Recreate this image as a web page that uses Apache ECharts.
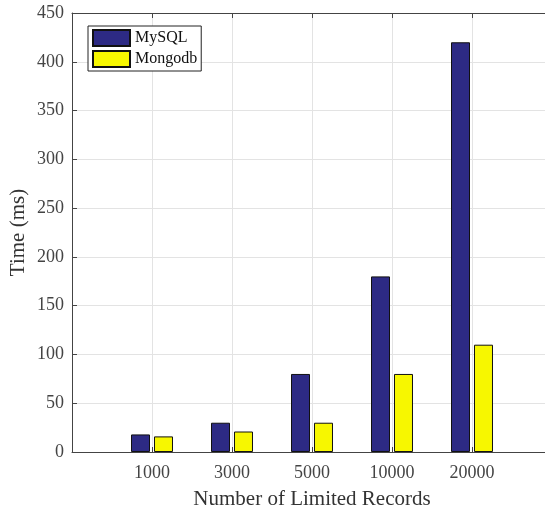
<!DOCTYPE html>
<html>
<head>
<meta charset="utf-8">
<script src="https://cdn.jsdelivr.net/npm/echarts@6/dist/echarts.min.js"></script>
<style>html,body{margin:0;padding:0;background:#fff;overflow:hidden}#c{width:545px;height:510px}</style>
</head>
<body>
<div id="c"></div>
<script>
const categories = ['1000', '3000', '5000', '10000', '20000'];
const mysqlValues = [18, 30, 80, 180, 420];
const mongoValues = [16, 21, 30, 80, 110];
const yTicks = { min: 0, max: 450, interval: 50 };

// pad with empty slots so the axis spans 0..6 like the original (xlim [0 6])
const axisCats = [''].concat(categories, ['']);
const pad = arr => [null].concat(arr, [null]);

const FONT = '"Liberation Serif", "Times New Roman", serif';
const chart = echarts.init(document.getElementById('c'), null, { renderer: 'canvas', width: 545, height: 510 });
chart.setOption({
  animation: false,
  backgroundColor: '#fff',
  grid: { left: 72, top: 13, width: 480, height: 439, containLabel: false, outerBoundsMode: 'none' },
  legend: {
    orient: 'vertical', left: 88, top: 26,
    itemWidth: 37, itemHeight: 16, itemGap: 3,
    padding: [3, 4, 3, 4],
    icon: 'rect',
    borderColor: '#222', borderWidth: 1, backgroundColor: '#fff',
    textStyle: { fontFamily: FONT, fontSize: 16, color: '#111' },
    data: ['MySQL', 'Mongodb']
  },
  xAxis: [{
    type: 'category', data: axisCats, boundaryGap: false,
    name: 'Number of Limited Records', nameLocation: 'middle', nameGap: 37,
    nameTextStyle: { fontFamily: FONT, fontSize: 21, color: '#333' },
    axisLine: { lineStyle: { color: '#444', width: 1 } },
    axisTick: { inside: true, length: 5, lineStyle: { color: '#444' } },
    axisLabel: { fontFamily: FONT, fontSize: 18, color: '#444', margin: 12, interval: 0 },
    splitLine: { show: true, lineStyle: { color: '#e3e3e3', width: 1 } }
  }, {
    type: 'category', data: axisCats, boundaryGap: false, position: 'top',
    axisLine: { show: true, lineStyle: { color: '#444', width: 1 } },
    axisTick: { inside: true, length: 5, lineStyle: { color: '#444' } },
    axisLabel: { show: false }, splitLine: { show: false }
  }],
  yAxis: {
    type: 'value', min: yTicks.min, max: yTicks.max, interval: yTicks.interval,
    name: 'Time (ms)', nameLocation: 'middle', nameGap: 43, nameMoveOverlap: false,
    nameTextStyle: { fontFamily: FONT, fontSize: 21, color: '#333' },
    axisLine: { show: true, lineStyle: { color: '#444', width: 1 } },
    axisTick: { show: true, inside: true, length: 5, lineStyle: { color: '#444' } },
    axisLabel: { fontFamily: FONT, fontSize: 18, color: '#444', margin: 8 },
    splitLine: { show: true, lineStyle: { color: '#e3e3e3', width: 1 } }
  },
  series: [{
    name: 'MySQL', type: 'bar', data: pad(mysqlValues),
    barWidth: 19, barGap: '21%',
    itemStyle: { color: '#2d2a84', borderColor: '#111', borderWidth: 1 }
  }, {
    name: 'Mongodb', type: 'bar', data: pad(mongoValues),
    barWidth: 19, barGap: '21%',
    itemStyle: { color: '#f7f700', borderColor: '#111', borderWidth: 1 }
  }]
});
</script>
</body>
</html>
